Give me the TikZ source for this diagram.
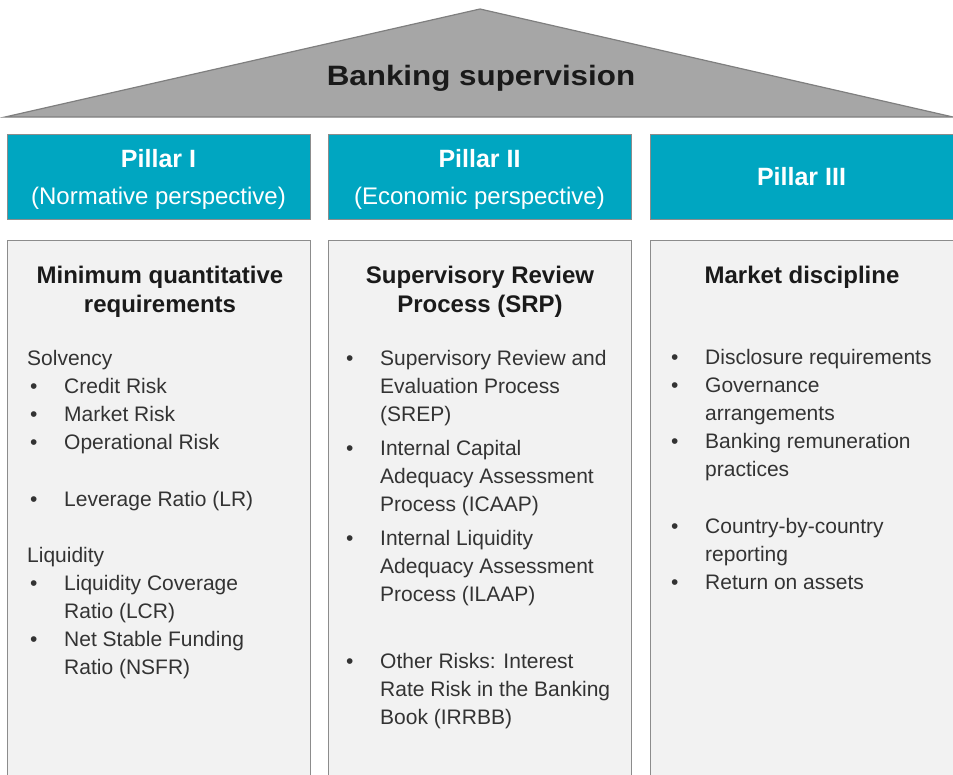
\documentclass[tikz,border=0pt]{standalone}
\usepackage{fontspec}
\setmainfont{Liberation Sans}
\newfontfamily\bswide[FakeStretch=1.12]{Liberation Sans}
\usetikzlibrary{positioning}
\definecolor{bsteal}{HTML}{00A6C1}
\definecolor{bsroofgray}{HTML}{A6A6A6}
\definecolor{bsroofedge}{HTML}{7F7F7F}
\definecolor{bsboxfill}{HTML}{F2F2F2}
\definecolor{bsboxedge}{HTML}{8C8C8C}
\definecolor{bstitletext}{HTML}{1A1A1A}
\definecolor{bsbodytext}{HTML}{333333}
% bullet cell
\newcommand{\bsbul}{\hspace*{3pt}\textbullet}

\begin{document}
\begin{tikzpicture}[x=1pt, y=-1pt,
  bsroof/.style = {fill=bsroofgray, draw=bsroofedge, line width=1.2pt},
  bshead/.style = {fill=bsteal, draw=bsboxedge, line width=0.8pt, text=white,
    minimum width=303pt, minimum height=85pt, inner sep=0pt, align=center,
    font=\fontsize{24}{37}\selectfont},
  bsbox/.style = {fill=bsboxfill, draw=bsboxedge, line width=1pt,
    minimum width=303pt, minimum height=560pt, inner sep=0pt},
  bstitle/.style = {text=bstitletext, align=center, inner sep=0pt,
    font=\bfseries\fontsize{24}{29}\selectfont},
  bslist/.style = {text=bsbodytext, anchor=base west, inner sep=0pt,
    font=\fontsize{21}{28}\selectfont}
]
  \useasboundingbox (0,0) rectangle (953,774);
  % roof
  \draw[bsroof] (5,117) -- (480,9) -- (953,117) -- cycle;
  \node[text=bstitletext, font=\bswide\bfseries\fontsize{28}{28}\selectfont]
    (roof) at (481,78) {Banking supervision};
  % pillar heads
  \node[bshead] (pI) at (158.5,176.5)
    {\rule{0pt}{24pt}{\bfseries\fontsize{25}{37}\selectfont Pillar I}\\(Normative perspective)};
  \node[bshead] (pII) at (479.5,176.5)
    {\rule{0pt}{24pt}{\bfseries\fontsize{25}{37}\selectfont Pillar II}\\(Economic perspective)};
  \node[bshead, font=\bfseries\fontsize{25}{37}\selectfont] (pIII) at (801.5,176.5)
    {Pillar III};
  % pillar boxes
  \node[bsbox, below=21pt of pI] (bI) {};
  \node[bsbox, below=21pt of pII] (bII) {};
  \node[bsbox, below=21pt of pIII] (bIII) {};
  % box titles
  \node[bstitle] (tI) at (160,292) {Minimum quantitative\\requirements};
  \node[bstitle] (tII) at (480,292) {Supervisory Review\\Process (SRP)};
  \node[bstitle] (tIII) at (802,277) {Market discipline};
  % Pillar I list
  \node[bslist] (lI) at (27,365) {\begin{tabular}[t]{@{}p{37pt}@{}l@{}}
    \multicolumn{2}{@{}l@{}}{Solvency}\\
    \bsbul & Credit Risk\\
    \bsbul & Market Risk\\
    \bsbul & Operational Risk\\[29pt]
    \bsbul & Leverage Ratio (LR)\\[28pt]
    \multicolumn{2}{@{}l@{}}{Liquidity}\\
    \bsbul & Liquidity Coverage\\
           & Ratio (LCR)\\
    \bsbul & Net Stable Funding\\
           & Ratio (NSFR)
  \end{tabular}};
  % Pillar II list
  \node[bslist] (lII) at (343,365.5) {\begin{tabular}[t]{@{}p{37pt}@{}l@{}}
    \bsbul & Supervisory Review and\\
           & Evaluation Process\\
           & (SREP)\\[6pt]
    \bsbul & Internal Capital\\
           & Adequacy Assessment\\
           & Process (ICAAP)\\[6pt]
    \bsbul & Internal Liquidity\\
           & Adequacy Assessment\\
           & Process (ILAAP)\\[39pt]
    \bsbul & Other Risks: Interest\\
           & Rate Risk in the Banking\\
           & Book (IRRBB)
  \end{tabular}};
  % Pillar III list
  \node[bslist] (lIII) at (668,364.5) {\begin{tabular}[t]{@{}p{37pt}@{}l@{}}
    \bsbul & Disclosure requirements\\
    \bsbul & Governance\\
           & arrangements\\
    \bsbul & Banking remuneration\\
           & practices\\[29pt]
    \bsbul & Country-by-country\\
           & reporting\\
    \bsbul & Return on assets
  \end{tabular}};
\end{tikzpicture}
\end{document}
